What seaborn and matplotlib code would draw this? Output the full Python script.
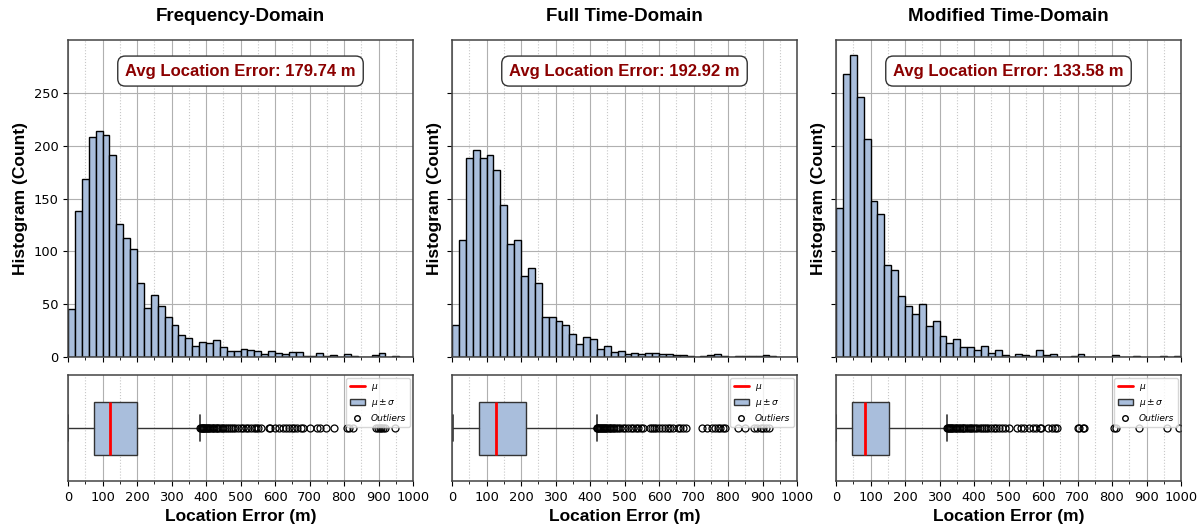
import numpy as np
import pandas as pd
import seaborn as sns
import matplotlib.pyplot as plt
from matplotlib.lines import Line2D
from matplotlib.patches import Patch
from matplotlib.ticker import MultipleLocator

# --- data ---
titles = ['Frequency-Domain', 'Full Time-Domain', 'Modified Time-Domain']
avg_errors = [179.74, 192.92, 133.58]

bin_edges = np.arange(0, 1001, 20)

counts_freq = [45, 138, 168, 208, 214, 210, 191, 126, 113, 102, 70, 46, 59, 48, 38, 30, 21, 18, 10, 14,
               13, 16, 9, 6, 6, 8, 7, 6, 3, 6, 4, 3, 5, 5, 1, 1, 4, 1, 2, 0,
               3, 1, 0, 0, 2, 4, 0, 1, 0, 0]
counts_full = [30, 111, 188, 196, 188, 191, 177, 144, 107, 111, 77, 84, 70, 38, 38, 34, 30, 22, 12, 19,
               17, 8, 10, 5, 6, 3, 4, 3, 4, 4, 3, 3, 2, 2, 1, 0, 1, 2, 3, 1,
               0, 1, 1, 1, 1, 2, 1, 0, 0, 0]
counts_mod = [141, 268, 286, 246, 206, 148, 135, 87, 82, 58, 48, 41, 50, 29, 34, 20, 13, 17, 9, 9,
              7, 10, 4, 7, 2, 0, 3, 2, 1, 7, 2, 3, 0, 0, 1, 3, 0, 0, 0, 0,
              2, 0, 0, 1, 0, 0, 0, 1, 0, 1]

# box stats: lower whisker, q1, median, q3, upper whisker
box_freq = [1, 74, 121, 199, 382]
box_full = [3, 77, 128, 214, 419]
box_mod = [1, 45, 85, 155, 321]

outliers_freq = [383, 385, 387, 390, 392, 395, 398, 400, 403, 406, 410, 413, 416, 420, 424, 428, 432, 436,
                 440, 445, 450, 455, 460, 466, 472, 478, 485, 492, 500, 508, 515, 522, 530, 538, 545, 552,
                 560, 583, 586, 600, 612, 622, 632, 642, 650, 655, 665, 675, 680, 700, 722, 730, 748, 772,
                 808, 815, 825, 893, 898, 903, 908, 914, 920, 948]
outliers_full = [419, 421, 423, 426, 429, 432, 435, 438, 441, 444, 447, 450, 454, 458, 462, 466, 470, 475,
                 480, 487, 495, 502, 510, 518, 525, 532, 540, 548, 555, 575, 580, 585, 590, 600, 610, 618,
                 625, 632, 640, 655, 662, 670, 678, 725, 740, 755, 762, 770, 778, 785, 790, 830, 850, 875,
                 885, 895, 902, 910, 918]
outliers_mod = [321, 324, 327, 330, 333, 336, 340, 344, 348, 352, 356, 360, 364, 368, 372, 377, 382, 387,
                392, 398, 404, 410, 416, 422, 428, 435, 442, 450, 458, 465, 472, 480, 490, 500, 525, 535,
                545, 560, 570, 580, 590, 595, 615, 625, 635, 640, 700, 705, 715, 720, 805, 812, 878, 960, 995]

all_counts = [counts_freq, counts_full, counts_mod]
all_boxes = [box_freq, box_full, box_mod]
all_outliers = [outliers_freq, outliers_full, outliers_mod]

sns.set_style('white')
plt.rcParams['font.family'] = 'DejaVu Sans'
plt.rcParams['text.color'] = 'black'
plt.rcParams['axes.labelcolor'] = 'black'
plt.rcParams['xtick.color'] = 'black'
plt.rcParams['ytick.color'] = 'black'
plt.rcParams['axes.edgecolor'] = '#444444'
plt.rcParams['axes.linewidth'] = 1.1
plt.rcParams['xtick.bottom'] = True
plt.rcParams['ytick.left'] = True

fill = '#a9bedc'
bold_font = 'Liberation Sans'

fig = plt.figure(figsize=(12.01, 5.28), dpi=100)
lefts = [68, 452, 836]
centers = (bin_edges[:-1] + bin_edges[1:]) / 2

for i in range(3):
    left = lefts[i] / 1201
    w = 345 / 1201
    ax_h = fig.add_axes([left, (528 - 357) / 528, w, 317 / 528])
    ax_b = fig.add_axes([left, (528 - 481) / 528, w, 106 / 528])

    # histogram
    hist_df = pd.DataFrame({'error': centers, 'count': all_counts[i]})
    sns.histplot(data=hist_df, x='error', weights='count', binwidth=20, binrange=(0, 1000), ax=ax_h,
                 color=fill, edgecolor='black', linewidth=1, alpha=1)
    ax_h.set_xlim(0, 1000)
    ax_h.set_ylim(0, 300)
    ax_h.xaxis.set_major_locator(MultipleLocator(100))
    ax_h.xaxis.set_minor_locator(MultipleLocator(50))
    ax_h.set_yticks([0, 50, 100, 150, 200, 250])
    ax_h.grid(which='major', axis='both', color='#b0b0b0', linewidth=0.8)
    ax_h.grid(which='minor', axis='x', color='#c8c8c8', linestyle=':', linewidth=0.8)
    ax_h.set_axisbelow(True)
    ax_h.tick_params(axis='x', which='major', labelbottom=False, length=3.5)
    ax_h.tick_params(axis='x', which='minor', length=2)
    ax_h.tick_params(axis='y', labelsize=9.4, length=3.5)
    if i > 0:
        ax_h.tick_params(axis='y', labelleft=False)
    ax_h.set_xlabel('')
    ax_h.set_ylabel('Histogram (Count)', fontsize=12.5, fontweight='bold', family=bold_font)
    ax_h.set_title(titles[i], fontsize=13.5, fontweight='bold', family=bold_font, pad=14)
    ax_h.text(0.5, 0.902, f'Avg Location Error: {avg_errors[i]:.2f} m', transform=ax_h.transAxes,
              ha='center', va='center', fontsize=12, fontweight='bold', color='#8b0000', family=bold_font,
              bbox=dict(boxstyle='round,pad=0.45', fc='white', ec='#333333', lw=1))

    # box plot
    lo, q1, med, q3, hi = all_boxes[i]
    stats = [dict(whislo=lo, q1=q1, med=med, q3=q3, whishi=hi, fliers=all_outliers[i])]
    ax_b.bxp(stats, positions=[1], widths=0.5, orientation='horizontal', patch_artist=True,
             boxprops=dict(facecolor=fill, edgecolor='#333333', linewidth=1),
             medianprops=dict(color='red', linewidth=2),
             whiskerprops=dict(color='#333333', linewidth=1),
             capprops=dict(color='#333333', linewidth=1.2),
             flierprops=dict(marker='o', markerfacecolor='none', markeredgecolor='black',
                             markersize=5, markeredgewidth=0.9))
    ax_b.set_ylim(0.5, 1.5)
    ax_b.set_yticks([])
    ax_b.set_xlim(0, 1000)
    ax_b.xaxis.set_major_locator(MultipleLocator(100))
    ax_b.xaxis.set_minor_locator(MultipleLocator(50))
    ax_b.grid(which='major', axis='x', color='#b0b0b0', linewidth=0.8)
    ax_b.grid(which='minor', axis='x', color='#c8c8c8', linestyle=':', linewidth=0.8)
    ax_b.set_axisbelow(True)
    ax_b.tick_params(axis='x', labelsize=9.4, length=3.5)
    ax_b.tick_params(axis='x', which='minor', length=2)
    ax_b.set_xlabel('Location Error (m)', fontsize=12.5, fontweight='bold', family=bold_font)

    handles = [Line2D([0], [0], color='red', lw=2),
               Patch(facecolor=fill, edgecolor='#333333'),
               Line2D([0], [0], marker='o', color='none', markerfacecolor='none',
                      markeredgecolor='black', markersize=4)]
    ax_b.legend(handles, [r'$\mu$', r'$\mu \pm \sigma$', 'Outliers'], loc='upper right',
                prop=dict(size=6.5, style='italic'), handlelength=1.6, borderpad=0.45,
                labelspacing=0.5, borderaxespad=0.3, handletextpad=0.7)

fig.savefig('out.png', dpi=100)
